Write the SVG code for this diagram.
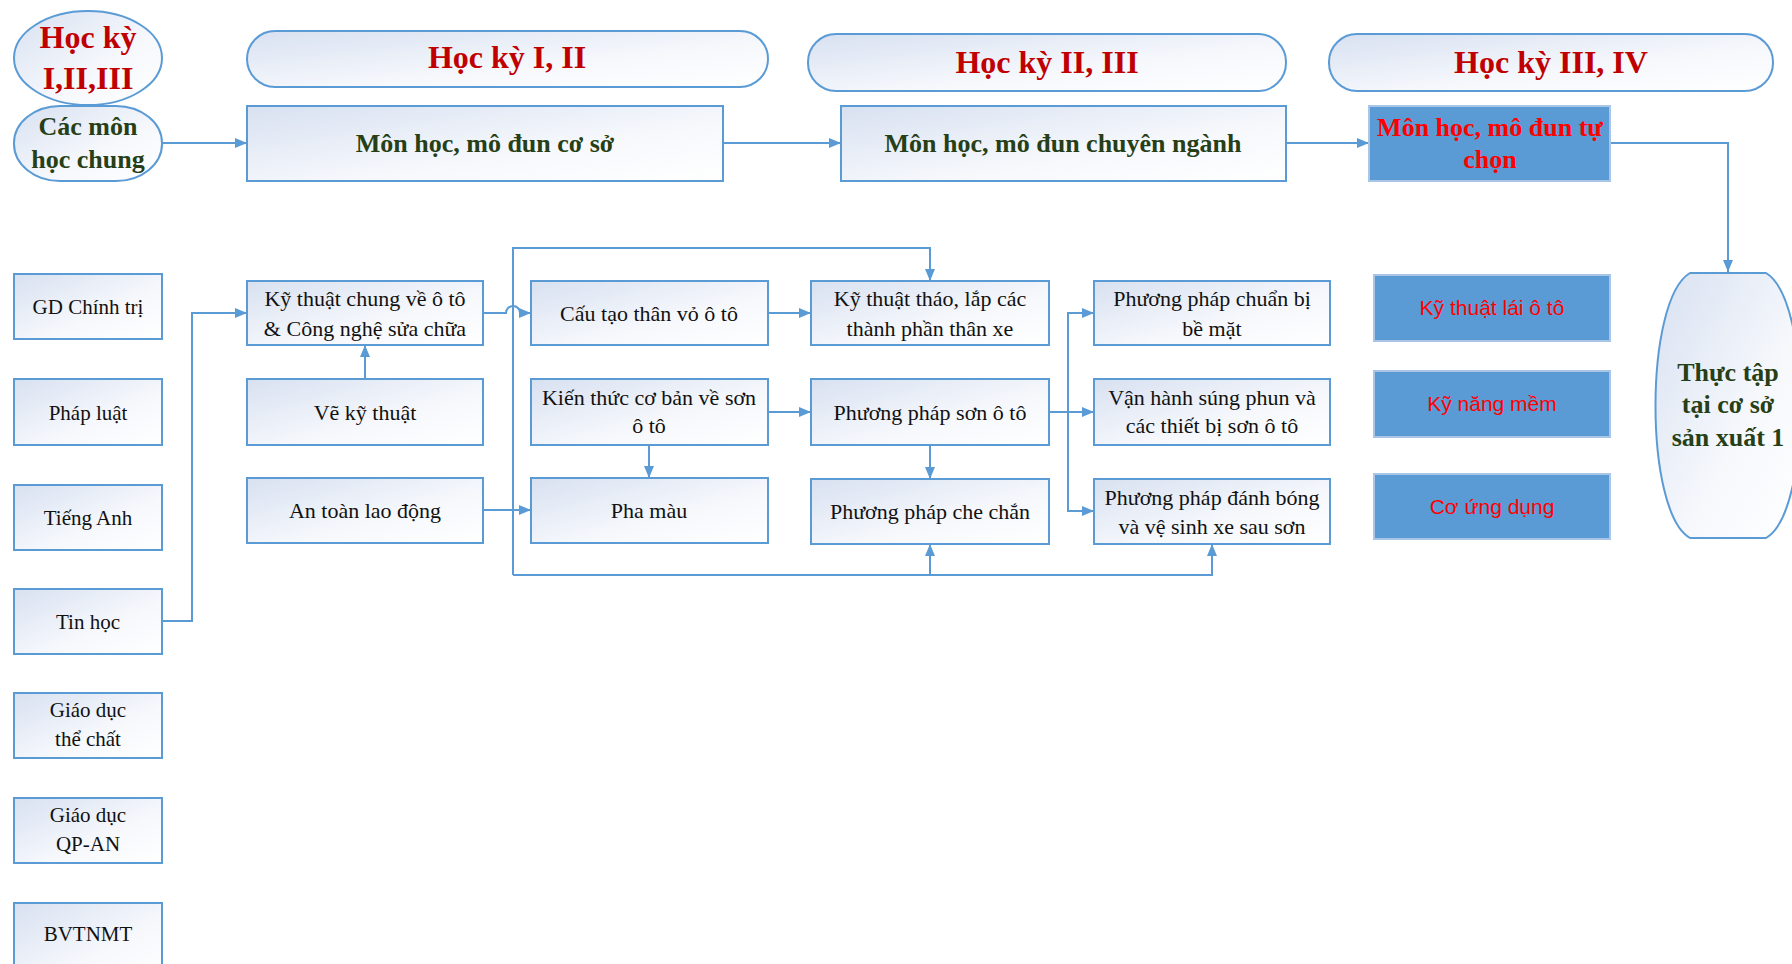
<svg xmlns="http://www.w3.org/2000/svg" width="1792" height="964" viewBox="0 0 1792 964">
<defs>
<linearGradient id="g" x1="0" y1="0" x2="1" y2="1">
<stop offset="0" stop-color="#d8e1f1"/>
<stop offset="0.6" stop-color="#f6f8fc"/>
<stop offset="1" stop-color="#ffffff"/>
</linearGradient>
<marker id="arr" markerUnits="userSpaceOnUse" markerWidth="12" markerHeight="10" refX="12" refY="5" orient="auto">
<path d="M0,0 L12,5 L0,10 Z" fill="#5b9bd5"/>
</marker>
<style>
.box{fill:url(#g);stroke:#5b9bd5;stroke-width:2}
.blue{fill:#5b9bd5;stroke:#a9c6e6;stroke-width:2}
.t{font-family:"Liberation Serif",serif;font-size:22px;fill:#111;text-anchor:middle}
.tl{font-family:"Liberation Serif",serif;font-size:21px;fill:#111;text-anchor:middle}
.h{font-family:"Liberation Serif",serif;font-size:32px;font-weight:bold;fill:#c00000;text-anchor:middle}
.m{font-family:"Liberation Serif",serif;font-size:26px;font-weight:bold;fill:#263f16;text-anchor:middle}
.mr{font-family:"Liberation Serif",serif;font-size:26px;font-weight:bold;fill:#ff0000;text-anchor:middle}
.s{font-family:"Liberation Sans",sans-serif;font-size:21px;fill:#ff0000;text-anchor:middle}
.c{fill:none;stroke:#5b9bd5;stroke-width:2}
</style>
</defs>
<rect width="1792" height="964" fill="#ffffff"/>

<g id="connectors">
<path class="c" d="M162,143 H247" marker-end="url(#arr)"/>
<path class="c" d="M723,143 H841" marker-end="url(#arr)"/>
<path class="c" d="M1286,143 H1369" marker-end="url(#arr)"/>
<path class="c" d="M1610,143 H1728 V272" marker-end="url(#arr)"/>
<path class="c" d="M162,621 H192 V313 H247" marker-end="url(#arr)"/>
<path class="c" d="M365,379 V345" marker-end="url(#arr)"/>
<path class="c" d="M483,313 H506 A7,7 0 0 1 520,313 H531" marker-end="url(#arr)"/>
<path class="c" d="M513,575 V248 H930 V281" marker-end="url(#arr)"/>
<path class="c" d="M513,575 H1212 V544" marker-end="url(#arr)"/>
<path class="c" d="M930,575 V544" marker-end="url(#arr)"/>
<path class="c" d="M483,510 H531" marker-end="url(#arr)"/>
<path class="c" d="M768,313 H811" marker-end="url(#arr)"/>
<path class="c" d="M768,412 H811" marker-end="url(#arr)"/>
<path class="c" d="M649,445 V478" marker-end="url(#arr)"/>
<path class="c" d="M930,445 V479" marker-end="url(#arr)"/>
<path class="c" d="M1049,412 H1094" marker-end="url(#arr)"/>
<path class="c" d="M1068,412 V313 H1094" marker-end="url(#arr)"/>
<path class="c" d="M1068,412 V511 H1094" marker-end="url(#arr)"/>
</g>

<g id="n-hk123">
<ellipse class="box" cx="88" cy="58" rx="74" ry="47"/>
<text class="h" x="88" y="48">Học kỳ</text>
<text class="h" x="88" y="89">I,II,III</text>
</g>
<g id="n-chung">
<rect class="box" x="14" y="106" width="148" height="75" rx="46" ry="37"/>
<text class="m" x="88" y="135">Các môn</text>
<text class="m" x="88" y="168">học chung</text>
</g>
<g id="n-hk12">
<rect class="box" x="247" y="31" width="521" height="56" rx="28"/>
<text class="h" x="507" y="68">Học kỳ I, II</text>
</g>
<g id="n-hk23">
<rect class="box" x="808" y="34" width="478" height="57" rx="28"/>
<text class="h" x="1047" y="73">Học kỳ II, III</text>
</g>
<g id="n-hk34">
<rect class="box" x="1329" y="34" width="444" height="57" rx="28"/>
<text class="h" x="1551" y="73">Học kỳ III, IV</text>
</g>
<g id="n-coso">
<rect class="box" x="247" y="106" width="476" height="75"/>
<text class="m" x="485" y="152">Môn học, mô đun cơ sở</text>
</g>
<g id="n-chuyennganh">
<rect class="box" x="841" y="106" width="445" height="75"/>
<text class="m" x="1063" y="152">Môn học, mô đun chuyên ngành</text>
</g>
<g id="n-tuchon">
<rect class="blue" x="1369" y="106" width="241" height="75"/>
<text class="mr" x="1490" y="136">Môn học, mô đun tự</text>
<text class="mr" x="1490" y="168">chọn</text>
</g>

<g id="n-gdct"><rect class="box" x="14" y="274" width="148" height="65"/><text class="tl" x="88" y="314">GD Chính trị</text></g>
<g id="n-phapluat"><rect class="box" x="14" y="379" width="148" height="66"/><text class="tl" x="88" y="420">Pháp luật</text></g>
<g id="n-tienganh"><rect class="box" x="14" y="485" width="148" height="65"/><text class="tl" x="88" y="525">Tiếng Anh</text></g>
<g id="n-tinhoc"><rect class="box" x="14" y="589" width="148" height="65"/><text class="tl" x="88" y="629">Tin học</text></g>
<g id="n-gdtc"><rect class="box" x="14" y="693" width="148" height="65"/><text class="tl" x="88" y="717">Giáo dục</text><text class="tl" x="88" y="746">thể chất</text></g>
<g id="n-qpan"><rect class="box" x="14" y="798" width="148" height="65"/><text class="tl" x="88" y="822">Giáo dục</text><text class="tl" x="88" y="851">QP-AN</text></g>
<g id="n-bvtnmt"><rect class="box" x="14" y="903" width="148" height="80"/><text class="tl" x="88" y="941">BVTNMT</text></g>

<g id="n-ktchung"><rect class="box" x="247" y="281" width="236" height="64"/><text class="t" x="365" y="306">Kỹ thuật chung về ô tô</text><text class="t" x="365" y="336">&amp; Công nghệ sửa chữa</text></g>
<g id="n-vekt"><rect class="box" x="247" y="379" width="236" height="66"/><text class="t" x="365" y="420">Vẽ kỹ thuật</text></g>
<g id="n-atld"><rect class="box" x="247" y="478" width="236" height="65"/><text class="t" x="365" y="518">An toàn lao động</text></g>

<g id="n-cautao"><rect class="box" x="531" y="281" width="237" height="64"/><text class="t" x="649" y="321">Cấu tạo thân vỏ ô tô</text></g>
<g id="n-kienthuc"><rect class="box" x="531" y="379" width="237" height="66"/><text class="t" x="649" y="405">Kiến thức cơ bản về sơn</text><text class="t" x="649" y="433">ô tô</text></g>
<g id="n-phamau"><rect class="box" x="531" y="478" width="237" height="65"/><text class="t" x="649" y="518">Pha màu</text></g>

<g id="n-thaolap"><rect class="box" x="811" y="281" width="238" height="64"/><text class="t" x="930" y="306">Kỹ thuật tháo, lắp các</text><text class="t" x="930" y="336">thành phần thân xe</text></g>
<g id="n-ppson"><rect class="box" x="811" y="379" width="238" height="66"/><text class="t" x="930" y="420">Phương pháp sơn ô tô</text></g>
<g id="n-chechan"><rect class="box" x="811" y="479" width="238" height="65"/><text class="t" x="930" y="519">Phương pháp che chắn</text></g>

<g id="n-chuanbi"><rect class="box" x="1094" y="281" width="236" height="64"/><text class="t" x="1212" y="306">Phương pháp chuẩn bị</text><text class="t" x="1212" y="336">bề mặt</text></g>
<g id="n-vanhanh"><rect class="box" x="1094" y="379" width="236" height="66"/><text class="t" x="1212" y="405">Vận hành súng phun và</text><text class="t" x="1212" y="433">các thiết bị sơn ô tô</text></g>
<g id="n-danhbong"><rect class="box" x="1094" y="479" width="236" height="65"/><text class="t" x="1212" y="505">Phương pháp đánh bóng</text><text class="t" x="1212" y="534">và vệ sinh xe sau sơn</text></g>

<g id="n-laioto"><rect class="blue" x="1374" y="275" width="236" height="66"/><text class="s" x="1492" y="315">Kỹ thuật lái ô tô</text></g>
<g id="n-kynang"><rect class="blue" x="1374" y="371" width="236" height="66"/><text class="s" x="1492" y="411">Kỹ năng mềm</text></g>
<g id="n-coungdung"><rect class="blue" x="1374" y="474" width="236" height="65"/><text class="s" x="1492" y="514">Cơ ứng dụng</text></g>

<g id="n-thuctap">
<path class="box" d="M1690,273 H1766 C1812,300 1812,512 1766,538 H1690 C1644,512 1644,300 1690,273 Z"/>
<text class="m" x="1728" y="381">Thực tập</text>
<text class="m" x="1728" y="413">tại cơ sở</text>
<text class="m" x="1728" y="446">sản xuất 1</text>
</g>
</svg>
